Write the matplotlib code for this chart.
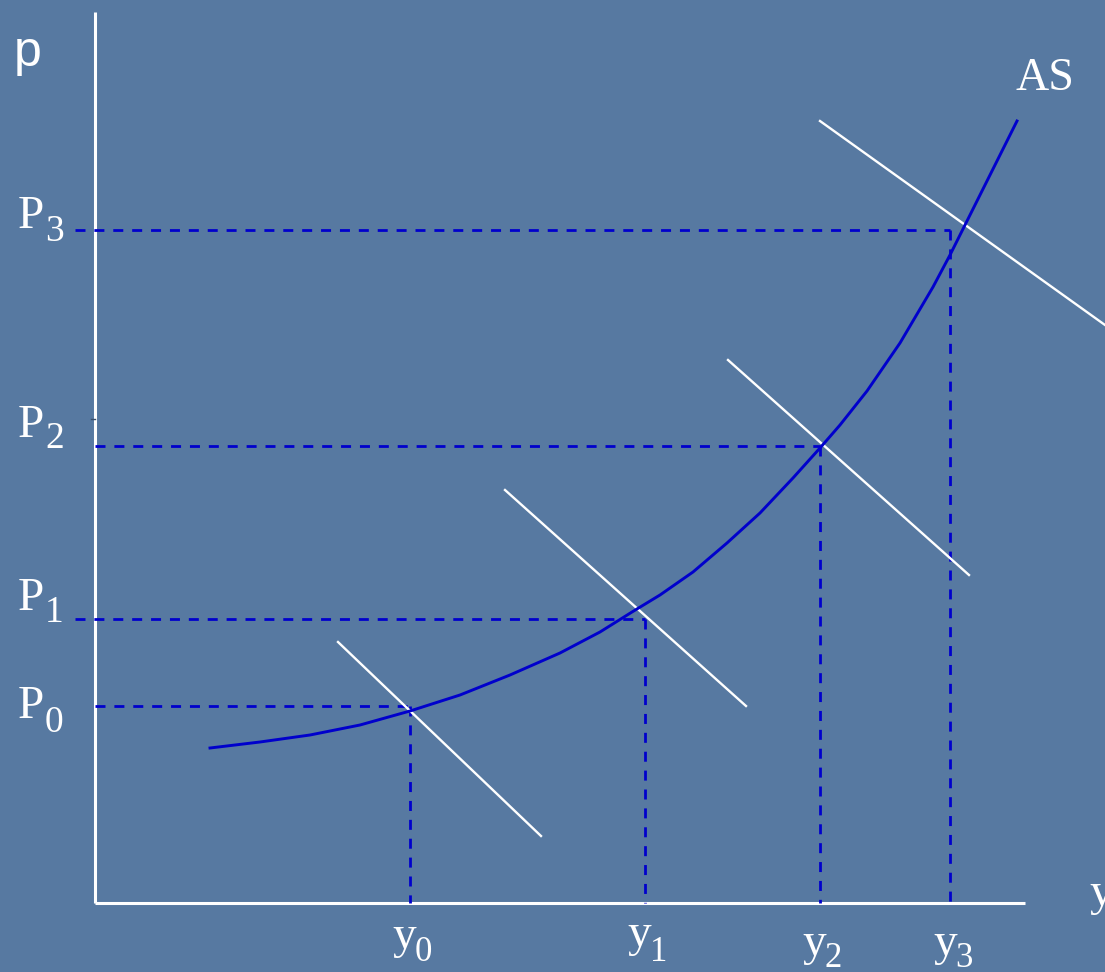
import numpy as np
import matplotlib
matplotlib.use('Agg')
from matplotlib import pyplot as plt

# AS curve (output, price)
as_output = [115, 165, 215, 265, 315, 365, 415, 465, 505, 537, 565, 598, 632,
             665, 698, 725, 745, 772, 805, 838, 855, 868, 895, 922]
as_price = [155, 161, 168, 178, 192, 208, 228, 250, 271, 291, 308, 331, 360,
            390, 425, 455, 478, 512, 560, 616, 648, 674, 728, 782]

# equilibrium points
eq_output = [315, 550, 725, 855]
eq_price = [197, 284, 457, 673]
price_line_start = [0, -20, 0, -20]   # P1 and P3 dashes poke past the axis

# AD lines (start and end points)
ad_x0 = [243, 410, 633, 725]
ad_y0 = [261, 413, 543, 782]
ad_x1 = [446, 651, 874, 1010]
ad_y1 = [67, 197, 328, 578]

subs = ['0', '1', '2', '3']

bg = '#5779a1'
blue = '#0000cc'

fig = plt.figure(figsize=(11.05, 9.72), dpi=100, facecolor=bg)
ax = fig.add_axes([0, 0, 1, 1])
ax.set_facecolor(bg)
ax.set_xlim(-95, 1010)
ax.set_ylim(-69, 903)
ax.axis('off')

# axes
ax.plot([0, 0], [0, 891], color='white', lw=2.2, solid_capstyle='butt')
ax.plot([0, 930], [0, 0], color='white', lw=2.2, solid_capstyle='butt')
ax.plot([-4, 0], [484, 484], color='#3a4f6a', lw=1)

# dashed guide lines
for i in range(4):
    ax.plot([price_line_start[i], eq_output[i]], [eq_price[i], eq_price[i]],
            color=blue, lw=2, dashes=(3.6, 3.2))
    ax.plot([eq_output[i], eq_output[i]], [eq_price[i], 0],
            color=blue, lw=2, dashes=(3.6, 3.2))

# AD lines
for i in range(4):
    ax.plot([ad_x0[i], ad_x1[i]], [ad_y0[i], ad_y1[i]], color='white', lw=1.7)

# AS curve
ax.plot(as_output, as_price, color=blue, lw=2.1, solid_joinstyle='round')

serif = 'Liberation Serif'

# labels
ax.text(-81, 837, 'p', fontsize=36, family='Liberation Sans', color='white',
        ha='left', va='baseline')
ax.text(920, 813, 'AS', fontsize=33, family=serif, color='white',
        ha='left', va='baseline')
ax.text(994, -2, 'y', fontsize=34, family=serif, color='white',
        ha='left', va='baseline')

p_base = [185, 293, 466, 675]
p_sub = [171, 281, 455, 662]
for i in range(4):
    ax.text(-77, p_base[i], 'P', fontsize=34, family=serif, color='white',
            ha='left', va='baseline')
    ax.text(-50, p_sub[i], subs[i], fontsize=27, family=serif, color='white',
            ha='left', va='baseline')

y_left = [297, 532, 707, 838]
y_sub_left = [320, 555, 729, 860]
y_base = [-45, -43, -52, -52]
y_sub = [-58, -58, -64, -64]
for i in range(4):
    ax.text(y_left[i], y_base[i], 'y', fontsize=34, family=serif, color='white',
            ha='left', va='baseline')
    ax.text(y_sub_left[i], y_sub[i], subs[i], fontsize=25, family=serif,
            color='white', ha='left', va='baseline')

fig.savefig('out.png', dpi=100, facecolor=bg)
